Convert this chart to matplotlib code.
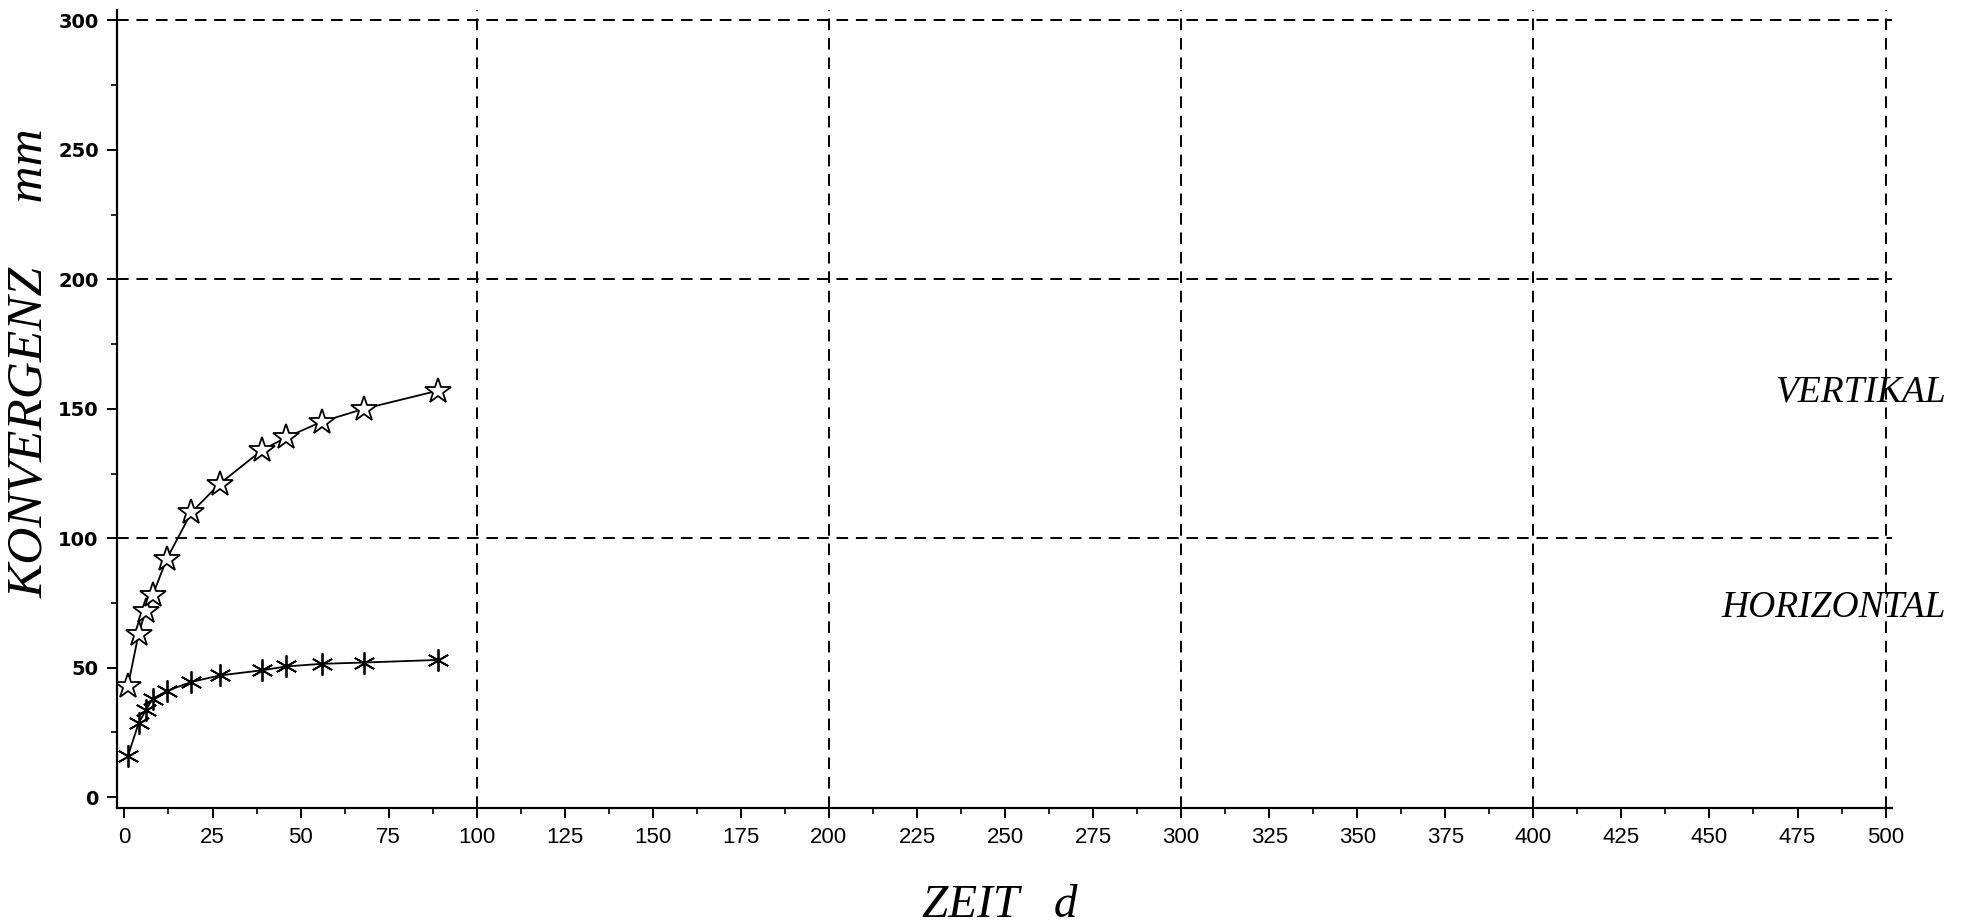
import numpy as np
import matplotlib
matplotlib.use("Agg")
import matplotlib.pyplot as plt
from matplotlib.ticker import MultipleLocator

# Daten
zeit = [1, 4, 6, 8, 12, 19, 27, 39, 46, 56, 68, 89]
vertikal = [43, 63, 72, 78, 92, 110, 121, 134, 139, 145, 150, 157]
horizontal = [16, 28.5, 33.5, 38, 41, 44.5, 47, 49, 50.5, 51.5, 52, 53]

x_ticks = np.arange(0, 501, 25)
y_ticks = np.arange(0, 301, 50)

fig = plt.figure(figsize=(19.65, 9.24), dpi=100)
ax = fig.add_axes([0.0594, 0.1255, 0.9034, 0.8636])

# gestrichelte Gitterlinien
for gx in [100, 200, 300, 400, 500]:
    ax.axvline(gx, color="black", lw=1.4, dashes=(6, 4), zorder=1)
for gy in [100, 200, 300]:
    ax.axhline(gy, color="black", lw=1.4, dashes=(6, 4), zorder=1)

ax.plot(zeit, vertikal, color="black", lw=1.3, marker="*", ms=19,
        mfc="white", mec="black", mew=1.3, zorder=3)
ax.plot(zeit, horizontal, color="black", lw=1.3, marker=(6, 2, 0), ms=16,
        mec="black", mew=1.3, zorder=3)

ax.set_xlim(-2.2, 501.8)
ax.set_ylim(-4.2, 304)

for s in ["top", "right"]:
    ax.spines[s].set_visible(False)
for s in ["left", "bottom"]:
    ax.spines[s].set_linewidth(1.6)

ax.set_xticks(x_ticks)
ax.xaxis.set_minor_locator(MultipleLocator(12.5))
ax.set_yticks(y_ticks)
ax.yaxis.set_minor_locator(MultipleLocator(25))
ax.tick_params(which="major", direction="out", length=7, width=1.4)
ax.tick_params(which="minor", direction="out", length=4, width=1.2)
ax.tick_params(axis="x", pad=7)
ax.tick_params(axis="y", pad=6)

for lab in ax.get_xticklabels():
    lab.set_fontfamily(["Liberation Sans", "DejaVu Sans"])
    lab.set_fontsize(16)
for lab in ax.get_yticklabels():
    lab.set_fontfamily("DejaVu Sans")
    lab.set_fontweight("bold")
    lab.set_fontsize(14)

serif = ["Liberation Serif", "DejaVu Serif"]
fig.text(1000 / 1965, 7 / 924, "ZEIT   d", family=serif, style="italic",
         fontsize=34, ha="center", va="baseline")
fig.text(30 / 1965, 1 - 363 / 924, "KONVERGENZ     mm", family=serif,
         style="italic", fontsize=37, rotation=90, ha="center", va="center")
fig.text(1946 / 1965, 1 - 392 / 924, "VERTIKAL", family=serif, style="italic",
         fontsize=27, ha="right", va="center")
fig.text(1946 / 1965, 1 - 608 / 924, "HORIZONTAL", family=serif, style="italic",
         fontsize=27, ha="right", va="center")

fig.savefig("out.png", dpi=100)
